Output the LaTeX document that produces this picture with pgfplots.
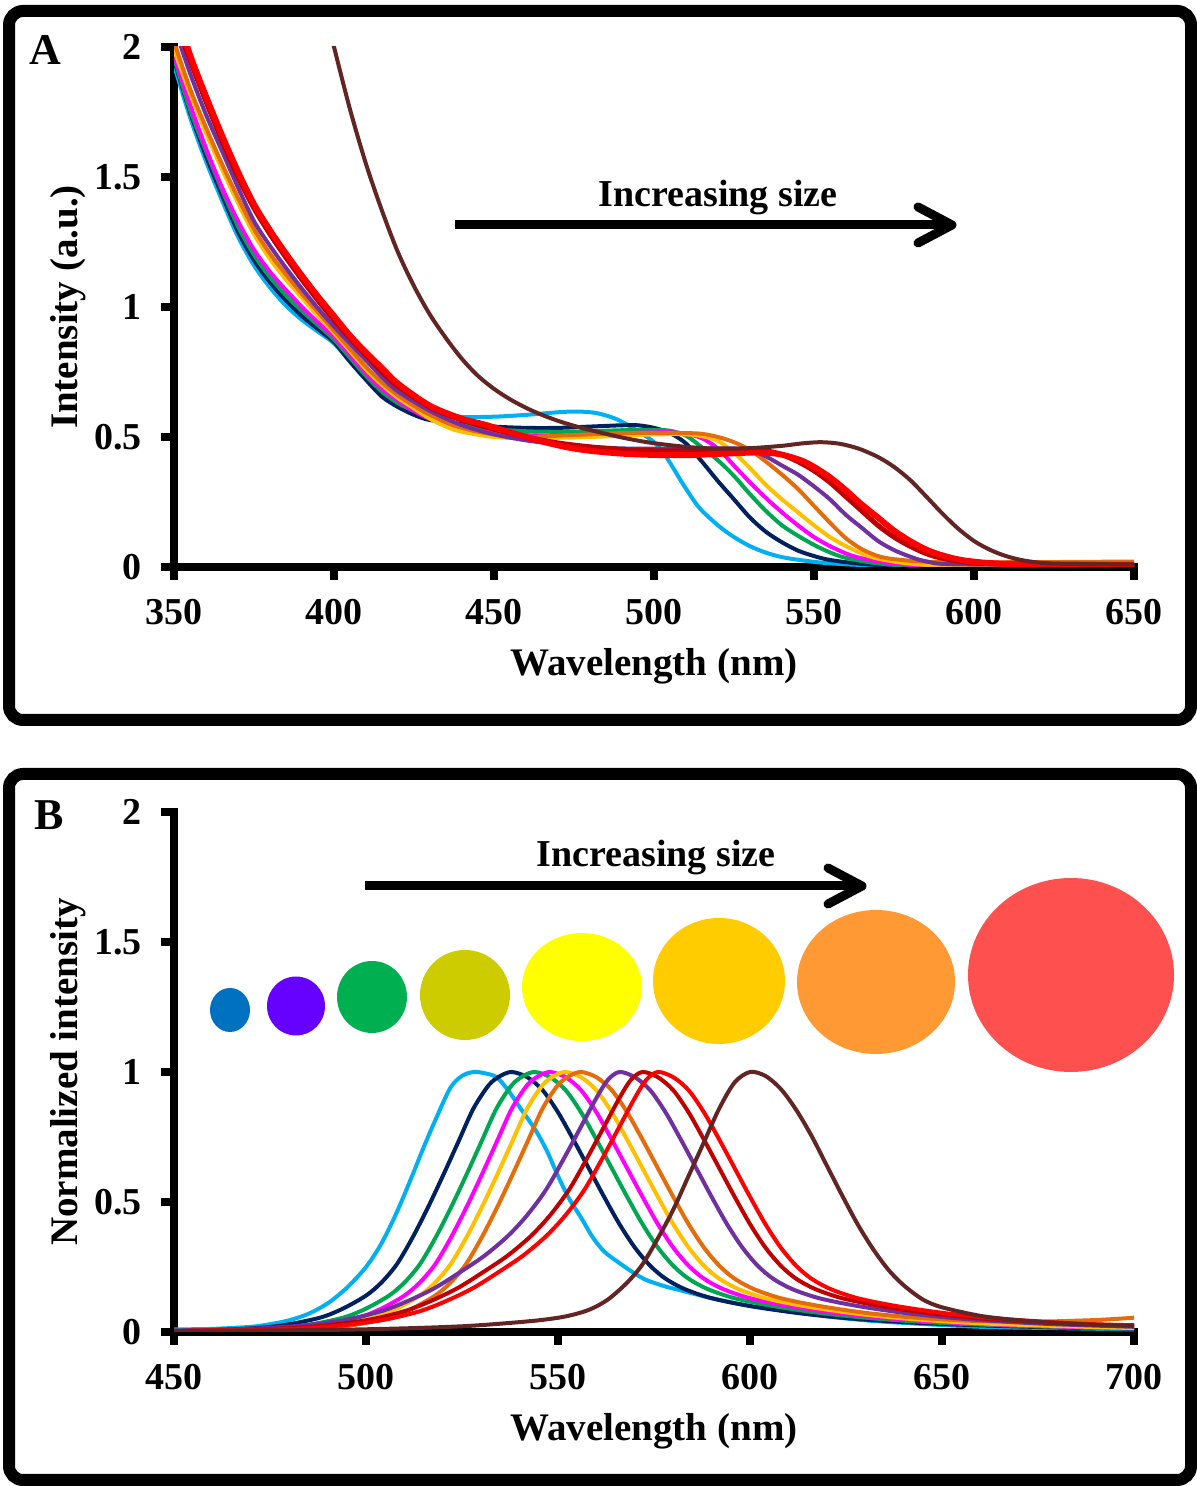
\documentclass[border=0pt]{standalone}
\usepackage{fontspec}
\setmainfont{Liberation Serif}
\usepackage{pgfplots}
\pgfplotsset{compat=1.18}
\usetikzlibrary{arrows.meta}
\definecolor{cLB}{HTML}{00B0F0}
\definecolor{cNV}{HTML}{002060}
\definecolor{cGR}{HTML}{00A651}
\definecolor{cMG}{HTML}{FF00FF}
\definecolor{cGD}{HTML}{FFC000}
\definecolor{cOR}{HTML}{E46C0A}
\definecolor{cPU}{HTML}{7030A0}
\definecolor{cDR}{HTML}{C00000}
\definecolor{cRD}{HTML}{FF0000}
\definecolor{cBR}{HTML}{632523}
\definecolor{dA}{HTML}{0070C0}
\definecolor{dB}{HTML}{6600FF}
\definecolor{dC}{HTML}{00B050}
\definecolor{dD}{HTML}{CCCC00}
\definecolor{dE}{HTML}{FFFF00}
\definecolor{dF}{HTML}{FFCC00}
\definecolor{dG}{HTML}{FF9933}
\definecolor{dH}{HTML}{FF5050}
\newcommand{\lab}{\bfseries\fontsize{19}{21}\selectfont}
\newcommand{\labb}{\bfseries\fontsize{19.5}{21}\selectfont}
\pgfplotsset{myaxis/.style={
  scale only axis, width=480pt, height=260pt,
  axis x line=bottom, axis y line=left,
  axis line style={-, line width=4pt, line cap=rect},
  ymin=0, ymax=2, ytick={0,0.5,1,1.5,2},
  tick align=outside, major tick length=6.5pt,
  every tick/.style={black, line width=4pt},
  ticklabel style={font=\lab},
  /pgf/number format/assume math mode=true,
  xticklabel style={yshift=-6pt},
  yticklabel style={xshift=-6pt},
  xlabel style={at={(axis description cs:0.5,-0.2096)}, anchor=base, font=\labb},
  ylabel style={at={(axis description cs:-0.101,0.5)}, anchor=base, font=\labb},
},
sm/.style={smooth, tension=0.5, line width=2pt}}
\begin{document}
\begin{tikzpicture}[x=1pt,y=1pt]
\path[use as bounding box] (0,0) rectangle (598.5,743);
\draw[line width=6pt, rounded corners=7pt] (4.5,383) rectangle (595.5,737.5);
\draw[line width=6pt, rounded corners=7pt] (4.5,3) rectangle (595.5,356);
% ---------------- Panel A
\begin{axis}[myaxis, at={(87pt,459.5pt)}, anchor=south west,
  xmin=350, xmax=650, xtick={350,400,...,650},
  xlabel={Wavelength (nm)}, ylabel={Intensity (a.u.)}]
\addplot[sm, cLB] coordinates {(350,1.93) (355,1.73) (360,1.56) (365,1.41) (370,1.27) (375,1.16) (380,1.075) (385,1.005) (390,0.95) (395,0.905) (400,0.86) (405,0.79) (410,0.72) (415,0.66) (420,0.62) (425,0.60) (430,0.585) (440,0.577) (450,0.578) (460,0.585) (470,0.595) (476,0.598) (482,0.592) (488,0.57) (494,0.53) (500,0.48) (504,0.42) (509,0.32) (514,0.23) (520,0.16) (525,0.115) (530,0.08) (535,0.055) (540,0.038) (546,0.026) (555,0.014) (570,0.006) (600,0.004) (650,0.004)};
\addplot[sm, cNV] coordinates {(350,1.95) (355,1.75) (360,1.58) (365,1.43) (370,1.29) (375,1.18) (380,1.095) (385,1.025) (390,0.965) (395,0.915) (400,0.865) (405,0.79) (410,0.72) (415,0.655) (420,0.615) (425,0.585) (430,0.565) (440,0.55) (450,0.54) (460,0.535) (470,0.535) (480,0.54) (490,0.545) (495,0.545) (500,0.535) (505,0.515) (510,0.475) (515,0.405) (520,0.33) (525,0.26) (530,0.19) (535,0.135) (540,0.095) (545,0.063) (550,0.042) (555,0.027) (565,0.012) (580,0.005) (650,0.004)};
\addplot[sm, cGR] coordinates {(350,1.96) (355,1.76) (360,1.6) (365,1.45) (370,1.31) (375,1.2) (380,1.115) (385,1.045) (390,0.985) (395,0.93) (400,0.875) (405,0.805) (410,0.735) (415,0.675) (420,0.63) (425,0.6) (430,0.575) (440,0.545) (450,0.53) (460,0.522) (470,0.52) (480,0.522) (490,0.526) (500,0.527) (505,0.524) (510,0.505) (515,0.46) (520,0.41) (525,0.35) (530,0.28) (535,0.215) (540,0.16) (545,0.12) (550,0.085) (555,0.056) (560,0.035) (570,0.014) (585,0.005) (650,0.004)};
\addplot[sm, cMG] coordinates {(350,1.97) (355,1.78) (360,1.61) (365,1.46) (370,1.33) (375,1.22) (380,1.135) (385,1.065) (390,1.0) (395,0.94) (400,0.885) (405,0.815) (410,0.745) (415,0.685) (420,0.64) (425,0.6) (430,0.57) (440,0.535) (450,0.515) (460,0.507) (470,0.505) (480,0.508) (490,0.514) (500,0.518) (505,0.518) (510,0.512) (515,0.495) (520,0.455) (525,0.39) (530,0.325) (535,0.265) (540,0.21) (545,0.16) (550,0.115) (555,0.08) (560,0.052) (565,0.033) (575,0.013) (590,0.005) (650,0.004)};
\addplot[sm, cGD] coordinates {(350,1.99) (355,1.82) (360,1.67) (365,1.53) (370,1.4) (375,1.28) (380,1.185) (385,1.105) (390,1.035) (395,0.965) (400,0.9) (405,0.83) (410,0.76) (415,0.7) (420,0.65) (425,0.61) (430,0.57) (435,0.54) (440,0.52) (450,0.5) (460,0.495) (470,0.497) (480,0.5) (490,0.505) (500,0.51) (510,0.51) (515,0.503) (520,0.485) (525,0.44) (530,0.38) (535,0.315) (540,0.26) (545,0.21) (550,0.16) (555,0.115) (560,0.08) (565,0.052) (570,0.032) (580,0.013) (595,0.005) (650,0.004)};
\addplot[sm, cOR] coordinates {(350,2.02) (355,1.84) (360,1.69) (365,1.55) (370,1.42) (375,1.3) (380,1.205) (385,1.125) (390,1.05) (395,0.98) (400,0.91) (405,0.84) (410,0.77) (415,0.71) (420,0.66) (425,0.62) (430,0.585) (440,0.535) (450,0.51) (460,0.5) (470,0.505) (480,0.51) (490,0.515) (500,0.516) (510,0.515) (515,0.512) (520,0.5) (525,0.48) (530,0.45) (535,0.405) (540,0.355) (545,0.3) (550,0.235) (555,0.17) (560,0.11) (565,0.068) (570,0.042) (575,0.03) (585,0.02) (600,0.018) (625,0.019) (650,0.021)};
\addplot[sm, cPU] coordinates {(350,2.08) (355,1.9) (360,1.74) (365,1.6) (370,1.46) (375,1.33) (380,1.235) (385,1.15) (390,1.07) (395,0.995) (400,0.925) (405,0.86) (410,0.795) (415,0.73) (420,0.675) (430,0.6) (440,0.545) (450,0.51) (460,0.487) (470,0.472) (480,0.462) (490,0.456) (500,0.455) (510,0.455) (520,0.456) (525,0.456) (530,0.45) (535,0.425) (540,0.39) (545,0.355) (550,0.31) (555,0.26) (560,0.2) (565,0.15) (570,0.1) (575,0.065) (580,0.04) (585,0.022) (595,0.01) (650,0.008)};
\addplot[sm, cDR, line width=2.5pt] coordinates {(350,2.12) (355,1.95) (360,1.79) (365,1.64) (370,1.5) (375,1.38) (380,1.28) (385,1.19) (390,1.105) (395,1.025) (400,0.95) (405,0.88) (410,0.815) (415,0.75) (420,0.695) (430,0.615) (440,0.565) (450,0.53) (460,0.5) (470,0.477) (480,0.462) (490,0.452) (500,0.447) (510,0.447) (520,0.45) (530,0.452) (535,0.447) (540,0.432) (545,0.405) (550,0.37) (555,0.325) (560,0.27) (565,0.215) (570,0.16) (575,0.115) (580,0.08) (585,0.052) (590,0.034) (600,0.016) (620,0.009) (650,0.008)};
\addplot[sm, cRD, line width=3pt] coordinates {(350,2.16) (355,1.97) (360,1.81) (365,1.66) (370,1.52) (375,1.395) (380,1.295) (385,1.205) (390,1.12) (395,1.04) (400,0.965) (405,0.89) (410,0.825) (415,0.765) (420,0.705) (430,0.62) (440,0.57) (447,0.548) (455,0.518) (465,0.483) (473,0.46) (480,0.447) (490,0.436) (500,0.431) (510,0.43) (520,0.435) (530,0.44) (535,0.44) (540,0.432) (546,0.41) (550,0.385) (555,0.345) (560,0.295) (564,0.25) (570,0.19) (575,0.14) (580,0.1) (585,0.067) (590,0.045) (596,0.027) (605,0.015) (620,0.01) (650,0.008)};
\addplot[sm, cBR] coordinates {(398,2.1) (400,2.0) (405,1.76) (410,1.55) (415,1.37) (420,1.21) (425,1.08) (430,0.97) (435,0.88) (440,0.8) (445,0.735) (450,0.685) (455,0.645) (460,0.612) (465,0.585) (470,0.562) (475,0.543) (480,0.527) (485,0.512) (490,0.498) (495,0.486) (500,0.476) (510,0.462) (520,0.455) (530,0.457) (540,0.466) (546,0.475) (552,0.48) (558,0.474) (564,0.455) (570,0.423) (575,0.385) (580,0.335) (585,0.272) (590,0.207) (595,0.148) (600,0.1) (605,0.066) (610,0.042) (616,0.024) (625,0.013) (650,0.01)};
\end{axis}
% ---------------- Panel B
\begin{axis}[myaxis, at={(87pt,77pt)}, anchor=south west,
  xmin=450, xmax=700, xtick={450,500,...,700},
  xlabel={Wavelength (nm)}, ylabel={Normalized intensity}]
\addplot[sm, cLB] coordinates {(450,0.01) (460,0.012) (470,0.02) (475,0.03) (480,0.045) (485,0.07) (490,0.11) (495,0.17) (500,0.25) (504,0.34) (508,0.46) (512,0.6) (515,0.71) (518.5,0.83) (522,0.94) (525,0.985) (528,1.0) (531,0.995) (534,0.98) (537,0.93) (540,0.865) (544,0.78) (547,0.7) (550,0.6) (553,0.51) (556,0.44) (559,0.365) (562,0.31) (566,0.265) (570,0.225) (573,0.2) (578,0.175) (582,0.16) (590,0.13) (600,0.1) (610,0.08) (620,0.06) (630,0.045) (640,0.035) (660,0.02) (680,0.015) (700,0.01)};
\addplot[sm, cNV] coordinates {(450,0.004) (468,0.012) (478,0.025) (488,0.055) (494,0.09) (500,0.14) (504,0.19) (508,0.26) (512,0.36) (516,0.475) (520,0.6) (524,0.73) (528,0.86) (532,0.95) (535,0.985) (538,1) (542,0.98) (546,0.93) (550,0.845) (554,0.74) (558,0.63) (562,0.52) (566,0.415) (570,0.325) (574,0.255) (578,0.205) (583,0.165) (590,0.13) (600,0.1) (613,0.072) (628,0.05) (648,0.032) (678,0.018) (700,0.013)};
\addplot[sm, cGR] coordinates {(450,0.004) (474,0.012) (484,0.025) (494,0.055) (500,0.09) (506,0.14) (510,0.19) (514,0.26) (518,0.36) (522,0.475) (526,0.6) (530,0.73) (534,0.86) (538,0.95) (541,0.985) (544,1) (548,0.98) (552,0.93) (556,0.845) (560,0.74) (564,0.63) (568,0.52) (572,0.415) (576,0.325) (580,0.255) (584,0.205) (589,0.165) (596,0.13) (606,0.1) (619,0.072) (634,0.05) (654,0.032) (684,0.018) (700,0.014)};
\addplot[sm, cMG] coordinates {(450,0.003) (478,0.012) (488,0.025) (498,0.055) (504,0.09) (510,0.14) (514,0.19) (518,0.26) (522,0.36) (526,0.475) (530,0.6) (534,0.73) (538,0.86) (542,0.95) (545,0.985) (548,1) (552,0.98) (556,0.93) (560,0.845) (564,0.74) (568,0.63) (572,0.52) (576,0.415) (580,0.325) (584,0.255) (588,0.205) (593,0.165) (600,0.13) (610,0.1) (623,0.072) (638,0.05) (658,0.032) (688,0.018) (700,0.015)};
\addplot[sm, cGD] coordinates {(450,0.003) (482,0.012) (492,0.025) (502,0.055) (508,0.09) (514,0.14) (518,0.19) (522,0.26) (526,0.36) (530,0.475) (534,0.6) (538,0.73) (542,0.86) (546,0.95) (549,0.985) (552,1) (556,0.98) (560,0.93) (564,0.845) (568,0.74) (572,0.63) (576,0.52) (580,0.415) (584,0.325) (588,0.255) (592,0.205) (597,0.165) (604,0.13) (614,0.1) (627,0.072) (642,0.05) (662,0.032) (692,0.018) (700,0.016)};
\addplot[sm, cOR] coordinates {(450,0.003) (486,0.012) (496,0.025) (506,0.055) (512,0.09) (518,0.14) (522,0.19) (526,0.26) (530,0.36) (534,0.475) (538,0.6) (542,0.73) (546,0.86) (550,0.95) (553,0.985) (556,1) (560,0.98) (564,0.93) (568,0.845) (572,0.74) (576,0.63) (580,0.52) (584,0.415) (588,0.325) (592,0.255) (596,0.205) (601,0.165) (608,0.13) (618,0.1) (631,0.072) (646,0.052) (660,0.042) (675,0.04) (690,0.046) (700,0.055)};
\addplot[sm, cPU] coordinates {(450,0.005) (466,0.01) (481,0.022) (494,0.045) (504,0.08) (511,0.12) (518,0.17) (525,0.235) (531,0.295) (537,0.37) (542,0.45) (547,0.55) (552,0.68) (556,0.79) (560,0.9) (563,0.97) (566,1) (570,0.98) (574,0.93) (578,0.845) (582,0.74) (586,0.63) (590,0.52) (594,0.415) (598,0.325) (602,0.255) (606,0.205) (611,0.165) (618,0.13) (628,0.1) (641,0.072) (656,0.05) (676,0.032) (700,0.02)};
\addplot[sm, cDR] coordinates {(450,0.004) (472,0.01) (487,0.022) (500,0.045) (510,0.08) (517,0.12) (524,0.17) (531,0.235) (537,0.295) (543,0.37) (548,0.45) (553,0.55) (558,0.68) (562,0.79) (566,0.9) (569,0.97) (572,1) (576,0.98) (580,0.93) (584,0.845) (588,0.74) (592,0.63) (596,0.52) (600,0.415) (604,0.325) (608,0.255) (612,0.205) (617,0.165) (624,0.13) (634,0.1) (647,0.072) (662,0.05) (682,0.032) (700,0.025)};
\addplot[sm, cRD] coordinates {(450,0.004) (476,0.01) (491,0.022) (504,0.045) (514,0.08) (521,0.12) (528,0.17) (535,0.235) (541,0.295) (547,0.37) (552,0.45) (557,0.55) (562,0.68) (566,0.79) (570,0.9) (573,0.97) (576,1) (580,0.98) (584,0.93) (588,0.845) (592,0.74) (596,0.63) (600,0.52) (604,0.415) (608,0.325) (612,0.255) (616,0.205) (621,0.165) (628,0.13) (638,0.1) (651,0.072) (666,0.05) (686,0.032) (700,0.026)};
\addplot[sm, cBR] coordinates {(450,0.003) (490,0.008) (510,0.014) (525,0.022) (535,0.032) (545,0.045) (552,0.06) (558,0.085) (563,0.125) (568,0.19) (572,0.26) (576,0.36) (580,0.47) (584,0.6) (588,0.73) (592,0.86) (596,0.96) (600,1.0) (604,0.985) (608,0.935) (612,0.855) (616,0.755) (620,0.64) (624,0.525) (628,0.415) (632,0.32) (636,0.24) (640,0.18) (645,0.125) (650,0.095) (660,0.062) (670,0.045) (680,0.035) (690,0.028) (700,0.024)};
\end{axis}
% ---------------- annotations
\node[font=\bfseries\fontsize{22}{24}\selectfont, anchor=base west] at (11,710.5) {A};
\node[font=\bfseries\fontsize{22}{24}\selectfont, anchor=base west] at (13.5,328) {B};
\node[font=\lab, anchor=base] at (359,639.5) {Increasing size};
\draw[line width=4.5pt] (227.5,630.5) -- (474,630.5);
\draw[line width=4.5pt, line cap=round, line join=round] (459,639.5) -- (476,630.5) -- (459,621.5);
\node[font=\lab, anchor=base] at (328,309.5) {Increasing size};
\draw[line width=4.5pt] (182.5,300) -- (429,300);
\draw[line width=4.5pt, line cap=round, line join=round] (414,309) -- (431,300) -- (414,291);
\fill[dA] (115,238) ellipse [x radius=10, y radius=11];
\fill[dB] (148,240) ellipse [x radius=14.5, y radius=14.75];
\fill[dC] (186,244.5) ellipse [x radius=17.5, y radius=18];
\fill[dD] (232.5,245.5) ellipse [x radius=22.5, y radius=22.5];
\fill[dE] (291,249.5) ellipse [x radius=30, y radius=27];
\fill[dF] (359.5,252.5) ellipse [x radius=33, y radius=31.5];
\fill[dG] (438,252) ellipse [x radius=39.5, y radius=36];
\fill[dH] (535.5,255.5) ellipse [x radius=51.5, y radius=48.5];
\end{tikzpicture}
\end{document}
